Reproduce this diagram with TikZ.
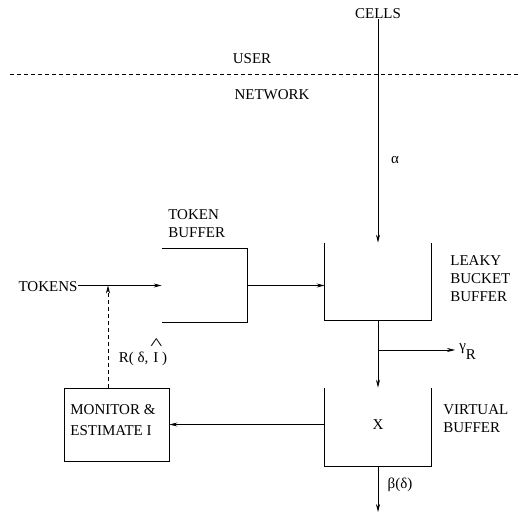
\documentclass[tikz,border=0pt]{standalone}
\usepackage{fontspec}
\setmainfont{Liberation Serif}
\usetikzlibrary{arrows.meta}
\begin{document}
\begin{tikzpicture}[x=1pt,y=-1pt,
  line width=0.7pt,
  lbl/.style={font=\fontsize{15}{18}\selectfont, inner sep=0pt},
  lbll/.style={lbl, align=left, anchor=west},
  bufbox/.style={draw=none, inner sep=0pt},
  arr/.style={-{Stealth[length=8pt,width=4pt]}},
  dsh/.style={dashed, dash pattern=on 4pt off 3pt}]
\useasboundingbox (0,0) rectangle (520,513);

% labels
\node[lbl] (cells) at (378,14) {CELLS};
\node[lbl] (user) at (252,59) {USER};
\node[lbl] (net) at (272,95) {NETWORK};
\node[lbl] (alpha) at (395,160) {α};
\node[lbl] (tokens) at (48,287) {TOKENS};
\node[lbll] (tbl) at (168,224) {TOKEN\\BUFFER};
\node[lbll] (lbl) at (450,279) {LEAKY\\BUCKET\\BUFFER};
\node[lbll] (vbl) at (443,419) {VIRTUAL\\BUFFER};

% user / network divider
\coordinate (dl) at (10,74);
\coordinate (dr) at (520,74);
\draw[dsh] (dl) -- (dr);

% buffers
\node[bufbox, minimum width=85pt, minimum height=73pt] (tb) at (204.5,285.5) {};
\draw (tb.north west) -- (tb.north east) -- (tb.south east) -- (tb.south west);
\node[bufbox, minimum width=106pt, minimum height=77pt] (lbb) at (378,281.5) {};
\draw (lbb.north west) -- (lbb.south west) -- (lbb.south east) -- (lbb.north east);
\node[bufbox, minimum width=106pt, minimum height=78pt] (vb) at (378,427) {};
\draw (vb.north west) -- (vb.south west) -- (vb.south east) -- (vb.north east);
\node[lbl] (x) at (378,425) {X};

% monitor
\node[draw, minimum width=105pt, minimum height=73pt, inner sep=0pt] (mon) at (116.5,424.5) {};
\node[lbll] (monl) at (70,420) {MONITOR \&\\[3pt]ESTIMATE I};

% connectors
\draw[arr] (cells.south) -- (lbb.north);
\draw[arr] (tokens.east |- tb.west) -- (tb.west);
\draw[arr] (tb.east) -- (tb.east -| lbb.west);
\draw[arr] (lbb.south) -- (vb.north);
\coordinate (br) at (378,350);
\coordinate (gend) at (455,350);
\draw[arr] (br) -- (gend);
\node[lbl, anchor=west] (gam) at (459,352) {γ\raisebox{-9pt}{R}};
\draw[arr] (mon.east -| vb.west) -- (mon.east);
\coordinate (tap) at (108,285.5);
\draw[dsh, arr] (mon.north -| tap) -- (tap);
\node[lbl] (rlab) at (143,352) {R( δ,\hspace{5pt}\makebox[0pt][l]{\hspace{-3pt}\raisebox{13pt}{\scalebox{1.7}[1.1]{\textasciicircum}}}I )};
\coordinate (out) at (378,512);
\draw[arr] (vb.south) -- (out);
\node[lbl] (beta) at (400,485) {β(δ)};
\end{tikzpicture}
\end{document}
